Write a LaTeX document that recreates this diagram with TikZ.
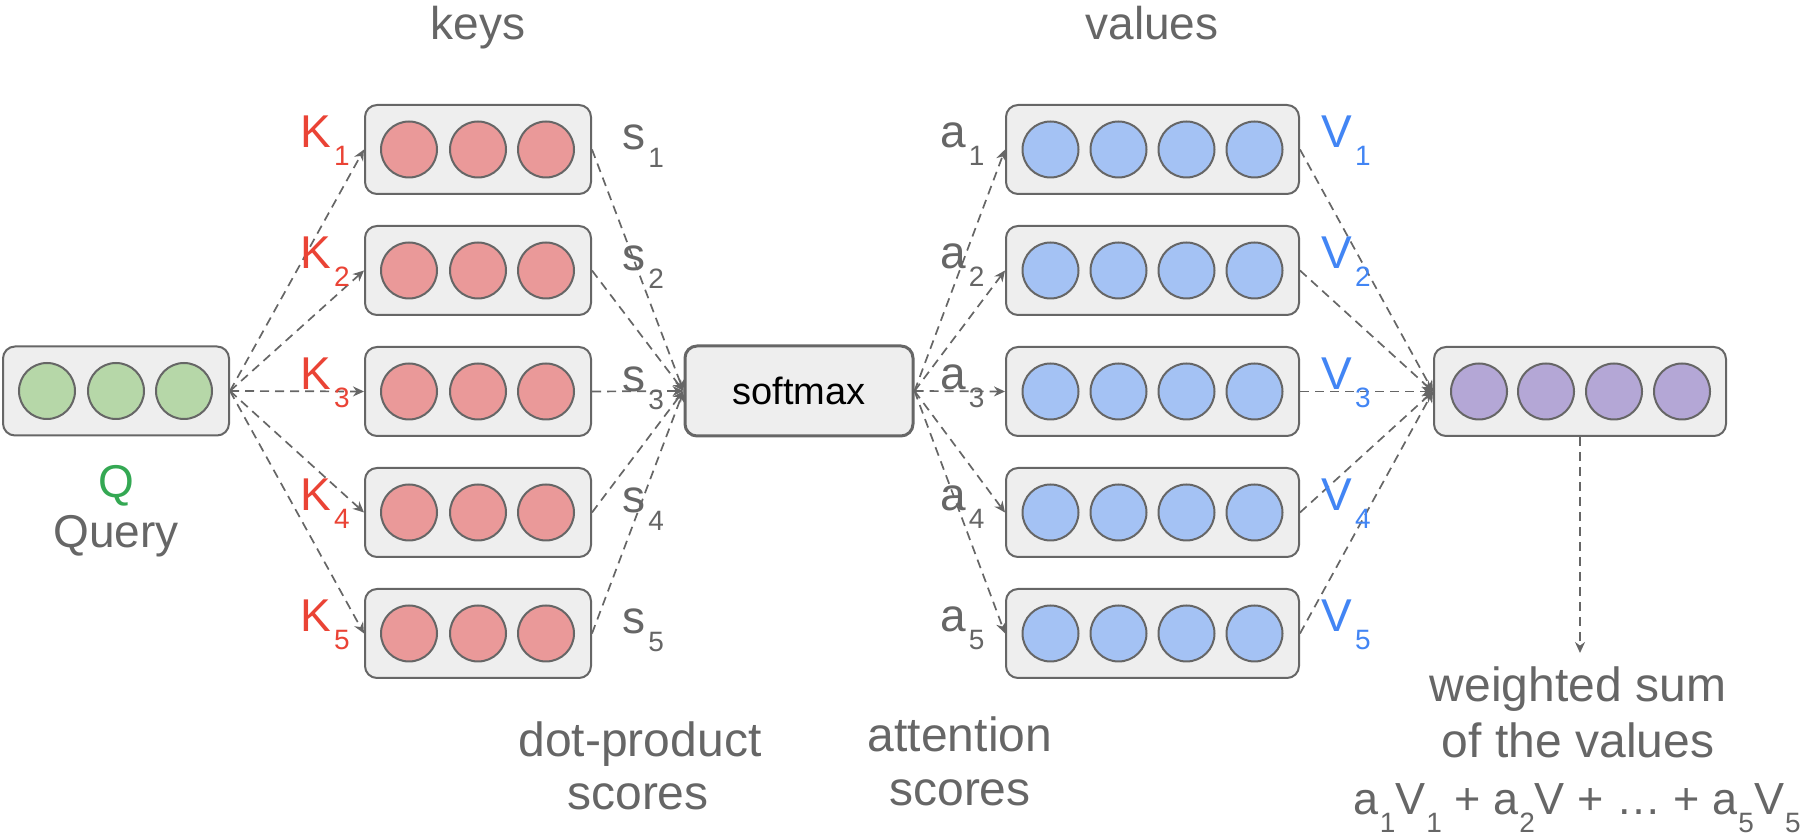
\documentclass[tikz,border=0pt]{standalone}
\usepackage{fontspec}
\setmainfont{Liberation Sans}
\usetikzlibrary{arrows.meta}
\definecolor{txt}{HTML}{666666}
\definecolor{bord}{HTML}{666666}
\definecolor{arr}{HTML}{666666}
\definecolor{boxfill}{HTML}{EEEEEE}
\definecolor{qgreen}{HTML}{B6D7A8}
\definecolor{kred}{HTML}{EA9999}
\definecolor{vblue}{HTML}{A4C2F4}
\definecolor{opurple}{HTML}{B4A7D6}
\definecolor{kcol}{HTML}{EA4335}
\definecolor{vcol}{HTML}{4285F4}
\definecolor{qcol}{HTML}{34A853}
\newcommand{\subn}[1]{\kern1.5pt\raisebox{-9pt}{\fontsize{14}{14}\selectfont #1}}
\newcommand{\subt}[1]{\kern0.5pt\raisebox{-9pt}{\fontsize{14}{14}\selectfont #1}}
\begin{document}
\begin{tikzpicture}[x=0.5pt,y=-0.5pt,
  box/.style={draw=bord, fill=boxfill, line width=1pt, rounded corners=6pt, inner sep=0, minimum height=44.5pt},
  dot/.style={circle, draw=bord, fill=#1, line width=1pt, minimum size=28pt, inner sep=0},
  conn/.style={draw=arr, dash pattern=on 4.5pt off 3pt, line width=0.85pt, -{Stealth[length=5.5pt,width=5pt]}},
  lab/.style={font=\fontsize{23}{28}\selectfont, text=txt, inner sep=0, anchor=base},
  labb/.style={lab, font=\fontsize{24}{28}\selectfont},
  labw/.style={lab, anchor=base west}]
\path[use as bounding box] (0,0) rectangle (1806,838);

% query
\node[box, minimum width=113pt] (q) at (116,391) {};
\foreach \dx [count=\j] in {-69,0,68} \node[dot=qgreen] (qc\j) at (116+\dx,391) {};

% softmax
\node[box, line width=1.5pt, minimum width=114pt, minimum height=45pt, font=\fontsize{19}{19}\selectfont, text=black] (sm) at (799,391) {softmax};

% output
\node[box, minimum width=146pt] (out) at (1580,391.5) {};
\foreach \dx [count=\j] in {-101,-34,34,102} \node[dot=opurple] (oc\j) at (1580+\dx,391.5) {};

\foreach \k/\y in {1/149.5,2/270.5,3/391.5,4/512.5,5/633.5} {
  \node[box, minimum width=113pt] (key\k) at (478,\y) {};
  \foreach \dx [count=\j] in {-69,0,68} \node[dot=kred] (key\k c\j) at (478+\dx,\y) {};
  \node[box, minimum width=146.5pt] (val\k) at (1152.5,\y) {};
  \foreach \dx [count=\j] in {-102,-34,34,102} \node[dot=vblue] (val\k c\j) at (1152.5+\dx,\y) {};
}

\foreach \k in {1,...,5} {
  \draw[conn] (q.east) -- (key\k.west);
  \draw[conn] (key\k.east) -- (sm.west);
  \draw[conn] (sm.east) -- (val\k.west);
  \draw[conn] (val\k.east) -- (out.west);
}
\coordinate (ws) at (1580,653);
\draw[conn] (out.south) -- (ws);

\foreach \k/\y in {1/149.5,2/270.5,3/391.5,4/512.5,5/633.5} {
  \node[labw, text=kcol] (kl\k) at (300,\y-2) {K\subn{\k}};
  \node[labw] (sl\k) at (622,\y) {s\subn{\k}};
  \node[labw] (al\k) at (940,\y-2) {a\subn{\k}};
  \node[labw, text=vcol] (vl\k) at (1321,\y-2) {V\subn{\k}};
}

% texts
\node[lab] (keys) at (478,40) {keys};
\node[lab] (values) at (1152,40) {values};
\node[lab, text=qcol] (qlab) at (116,498) {Q};
\node[lab] (query) at (116,548) {Query};
\node[labb] (dp1) at (640,757) {dot-product};
\node[labb] (dp2) at (638,810) {scores};
\node[labb] (at1) at (960,752) {attention};
\node[labb] (at2) at (960,806) {scores};
\node[labb] (ws1) at (1578,702) {weighted sum};
\node[labb] (ws2) at (1578,758) {of the values};
\node[lab, anchor=base east, font=\fontsize{22.5}{28}\selectfont] (ws3) at (1801,815) {a\subt{1}V\subt{1}\ + a\subt{2}V + … + a\subt{5}V\subt{5}};
\end{tikzpicture}
\end{document}
